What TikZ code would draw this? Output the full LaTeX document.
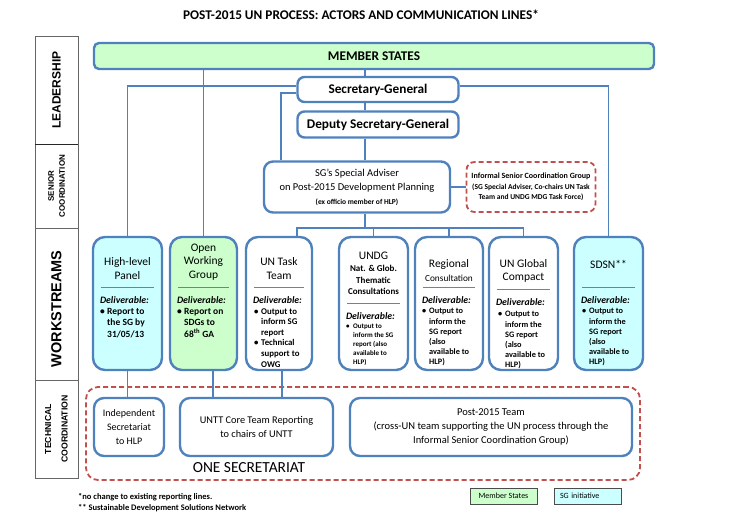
\documentclass[tikz,border=0pt]{standalone}
\usepackage{fontspec}
\setmainfont{Carlito}
\newfontfamily\sidefont{Liberation Sans}
\usetikzlibrary{calc}
\definecolor{unblue}{RGB}{79,129,189}
\definecolor{msgreen}{RGB}{204,255,204}
\definecolor{sgcyan}{RGB}{204,255,255}
\definecolor{dashred}{RGB}{192,80,77}
\newcommand\fs[2]{\fontsize{#1}{#2}\selectfont}
\newcommand\wsb{\makebox[7pt][l]{\textbullet}}
\newcommand\wslist[1]{\begin{tabular}{@{}l@{}l@{}}#1\end{tabular}}
\tikzset{
	unbox/.style={draw=unblue, line width=2.4pt, rounded corners=7pt, fill=white, inner sep=0pt},
	wsbox/.style={unbox, rounded corners=12pt, minimum height=133pt},
	link/.style={draw=unblue, line width=1.8pt},
	redbox/.style={draw=dashred, line width=1.8pt, dash pattern=on 5pt off 3pt, rounded corners=8pt, inner sep=0pt},
	wstitle/.style={align=center, font=\fs{11.5}{13.5}, inner sep=0pt},
	wsrule/.style={draw=black!50, line width=0.7pt},
	deliv/.style={anchor=west, font=\fs{9.8}{11}\bfseries\itshape, inner sep=0pt},
	wsitems/.style={anchor=north west, inner sep=0pt},
	sidelabel/.style={rotate=90, inner sep=0pt, align=center},
	legendbox/.style={draw=black!70, line width=0.8pt, minimum width=67pt, minimum height=16pt, inner sep=0pt, font=\fs{8}{9}}
}

\begin{document}
\begin{tikzpicture}[x=1pt,y=-1pt]
	%%%%% START %%%%%
	\def\wsmid{303.5}
	\def\ybus{228}
	\def\xspine{365}
	
	\useasboundingbox (0,0) rectangle (740,525);
	
	\node[font=\fs{13.3}{15}\bfseries, inner sep=0pt] (title) at (361,15) {POST-2015 UN PROCESS: ACTORS AND COMMUNICATION LINES*};
	
	% side column
	\draw[black!60, line width=0.8pt] (35,36) rectangle (78,478);
	\draw[black!85, line width=0.8pt] (35,144) -- (78,144);
	\draw[black!60, line width=0.8pt] (35,228) -- (78,228) (35,380) -- (78,380);
	\node[sidelabel, font=\sidefont\bfseries\fs{12}{13}] (lead) at (56.5,90) {LEADERSHIP};
	\node[sidelabel, font=\sidefont\bfseries\fs{8}{11}] (senior) at (56.5,186) {SENIOR\\COORDINATION};
	\node[sidelabel, font=\sidefont\bfseries\fs{14.5}{16}] (work) at (56.5,309) {WORKSTREAMS};
	\node[sidelabel, font=\sidefont\bfseries\fs{8.7}{16.5}] (tech) at (56.5,429) {TECHNICAL\\COORDINATION};
	
	% leadership and senior coordination
	\node[unbox, fill=msgreen, minimum width=560pt, minimum height=26pt, rounded corners=5pt, font=\fs{13.3}{15}\bfseries] (ms) at (374,56) {MEMBER STATES};
	\node[unbox, minimum width=161pt, minimum height=25pt, font=\fs{13.3}{15}\bfseries] (sg) at (378,89.5) {Secretary-General};
	\node[unbox, minimum width=161pt, minimum height=26pt, font=\fs{13.3}{15}\bfseries] (dsg) at (378,124.5) {Deputy Secretary-General};
	\node[unbox, minimum width=186pt, minimum height=51pt, rounded corners=9pt, align=center, font=\fs{10.5}{14}] (sa) at (357,187) {SG’s Special Adviser\\on Post-2015 Development Planning\\{\fs{7.5}{14}\bfseries (ex officio member of HLP)}};
	\node[redbox, minimum width=129pt, minimum height=50pt, align=center, font=\fs{7.5}{10.5}\bfseries] (isg) at (531,187) {{\fs{8}{10.5}\bfseries Informal Senior Coordination Group}\\(SG Special Adviser, Co-chairs UN Task\\Team and UNDG MDG Task Force)};
	
	% workstreams
	\node[wsbox, fill=sgcyan, minimum width=69pt] (hlp) at (127.5,\wsmid) {};
	\node[wsbox, fill=msgreen, minimum width=67pt] (owg) at (203.5,\wsmid) {};
	\node[wsbox, minimum width=66pt] (untt) at (279,\wsmid) {};
	\node[wsbox, minimum width=69pt] (undg) at (373.5,\wsmid) {};
	\node[wsbox, minimum width=68pt] (reg) at (449,\wsmid) {};
	\node[wsbox, minimum width=69pt] (ungc) at (523.5,\wsmid) {};
	\node[wsbox, fill=sgcyan, minimum width=69pt] (sdsn) at (608.5,\wsmid) {};
	
	\node[wstitle] (hlp-t) at (127.5,268.5) {High-level\\Panel};
	\node[wstitle] (owg-t) at (203.5,262) {Open\\Working\\Group};
	\node[wstitle] (untt-t) at (279,268.5) {UN Task\\Team};
	\node[wstitle, font=\fs{11.5}{11.7}] (undg-t) at (373.5,273.5) {UNDG\\{\fs{9}{11}\bfseries Nat. \& Glob.}\\{\fs{9}{11}\bfseries Thematic}\\{\fs{9}{11}\bfseries Consultations}};
	\node[wstitle] (reg-t) at (449,270.5) {Regional\\{\fs{9.3}{11}Consultation}};
	\node[wstitle] (ungc-t) at (523.5,271) {UN Global\\Compact};
	\node[wstitle] (sdsn-t) at (608.5,264) {SDSN**};
	
	\foreach \b/\r in {hlp/287,owg/287,untt/287,undg/303,reg/287,ungc/289,sdsn/287}{
		\draw[wsrule] ($(\b.west|-0,\r)+(9,0)$) -- ($(\b.east|-0,\r)+(-9,0)$);
		\node[deliv] (del-\b) at ($(\b.west|-0,\r)+(8,13)$) {Deliverable:};
	}
	
	\node[wsitems, font=\fs{9.5}{11.5}\bfseries] (hlp-i) at (100,306) {\wslist{\wsb & Report to\\ & the SG by\\ & 31/05/13}};
	\node[wsitems, font=\fs{9.5}{11.5}\bfseries] (owg-i) at (177,306) {\wslist{\wsb & Report on\\ & SDGs to\\ & 68\textsuperscript{th} GA}};
	\node[wsitems, font=\fs{8.8}{10.6}\bfseries] (untt-i) at (254,306.5) {\wslist{\wsb & Output to\\ & inform SG\\ & report\\ \wsb & Technical\\ & support to\\ & OWG}};
	\node[wsitems, font=\fs{7}{9}\bfseries] (undg-i) at (346,322) {\wslist{\wsb & Output to\\ & inform the SG\\ & report (also\\ & available to\\ & HLP)}};
	\node[wsitems, font=\fs{8.3}{10.2}\bfseries] (reg-i) at (422,306.6) {\wslist{\wsb & Output to\\ & inform the\\ & SG report\\ & (also\\ & available to\\ & HLP)}};
	\node[wsitems, font=\fs{8.3}{10.2}\bfseries] (ungc-i) at (498,309.6) {\wslist{\wsb & Output to\\ & inform the\\ & SG report\\ & (also\\ & available to\\ & HLP)}};
	\node[wsitems, font=\fs{8.3}{10.2}\bfseries] (sdsn-i) at (582,306.6) {\wslist{\wsb & Output to\\ & inform the\\ & SG report\\ & (also\\ & available to\\ & HLP)}};
	
	% technical coordination
	\node[redbox, minimum width=554pt, minimum height=93pt, rounded corners=12pt] (onesec) at (363,433.5) {};
	\node[unbox, rounded corners=10pt, minimum width=70pt, minimum height=58pt, align=center, font=\fs{10}{14}] (indep) at (129,427) {Independent\\Secretariat\\to HLP};
	\node[unbox, rounded corners=10pt, minimum width=153pt, minimum height=58pt, align=center, font=\fs{10.3}{14}] (core) at (256.5,427) {UNTT Core Team Reporting\\to chairs of UNTT};
	\node[unbox, rounded corners=10pt, minimum width=282pt, minimum height=58pt, align=center, font=\fs{10.5}{14}] (post) at (491,427) {Post-2015 Team\\(cross-UN team supporting the UN process through the\\Informal Senior Coordination Group)};
	\node[font=\fs{15.4}{17}, inner sep=0pt] (onesec-t) at (249,468) {ONE SECRETARIAT};
	
	% communication lines
	\coordinate (spine) at (\xspine,0);
	\coordinate (bus) at (\xspine,\ybus);
	\draw[link] (ms.south -| spine) -- (sg.north -| spine);
	\draw[link] (sg.south -| spine) -- (dsg.north -| spine);
	\draw[link] (dsg.south -| spine) -- (sa.north -| spine);
	\draw[link] (ms.south -| owg.north) -- (owg.north);
	\draw[link] ([yshift=3.5pt]sg.west) -| (hlp.north);
	\draw[link] ([yshift=3.5pt]sg.east) -| (sdsn.north);
	\draw[link] ([yshift=-3.5pt]sg.west) -| ([xshift=-76pt]sa.north);
	\draw[link] (sa.east) -- (isg.west);
	\draw[link] (sa.south -| spine) -- (bus);
	\draw[link] (bus) -| ([xshift=18pt]untt.north);
	\foreach \t in {undg,reg,ungc}
		\draw[link] (bus) -| (\t.north);
	\draw[link] (hlp.south) -- (hlp.south |- indep.north);
	\draw[link] ([xshift=9.5pt]owg.south) -- ([xshift=9.5pt]owg.south |- core.north);
	\draw[link] ([xshift=3pt]untt.south) -- ([xshift=3pt]untt.south |- core.north);
	
	% notes and legend
	\node[anchor=west, font=\fs{8.5}{9}\bfseries, inner sep=0pt] (note1) at (78,497) {*no change to existing reporting lines.};
	\node[anchor=west, font=\fs{8.5}{9}\bfseries, inner sep=0pt] (note2) at (78,508) {** Sustainable Development Solutions Network};
	\node[legendbox, fill=msgreen] (leg-ms) at (503.5,496) {Member States};
	\node[legendbox, fill=sgcyan, text width=55pt, align=left] (leg-sg) at (587.5,496) {SG initiative};
	%%%%% END %%%%%
\end{tikzpicture}
\end{document}
